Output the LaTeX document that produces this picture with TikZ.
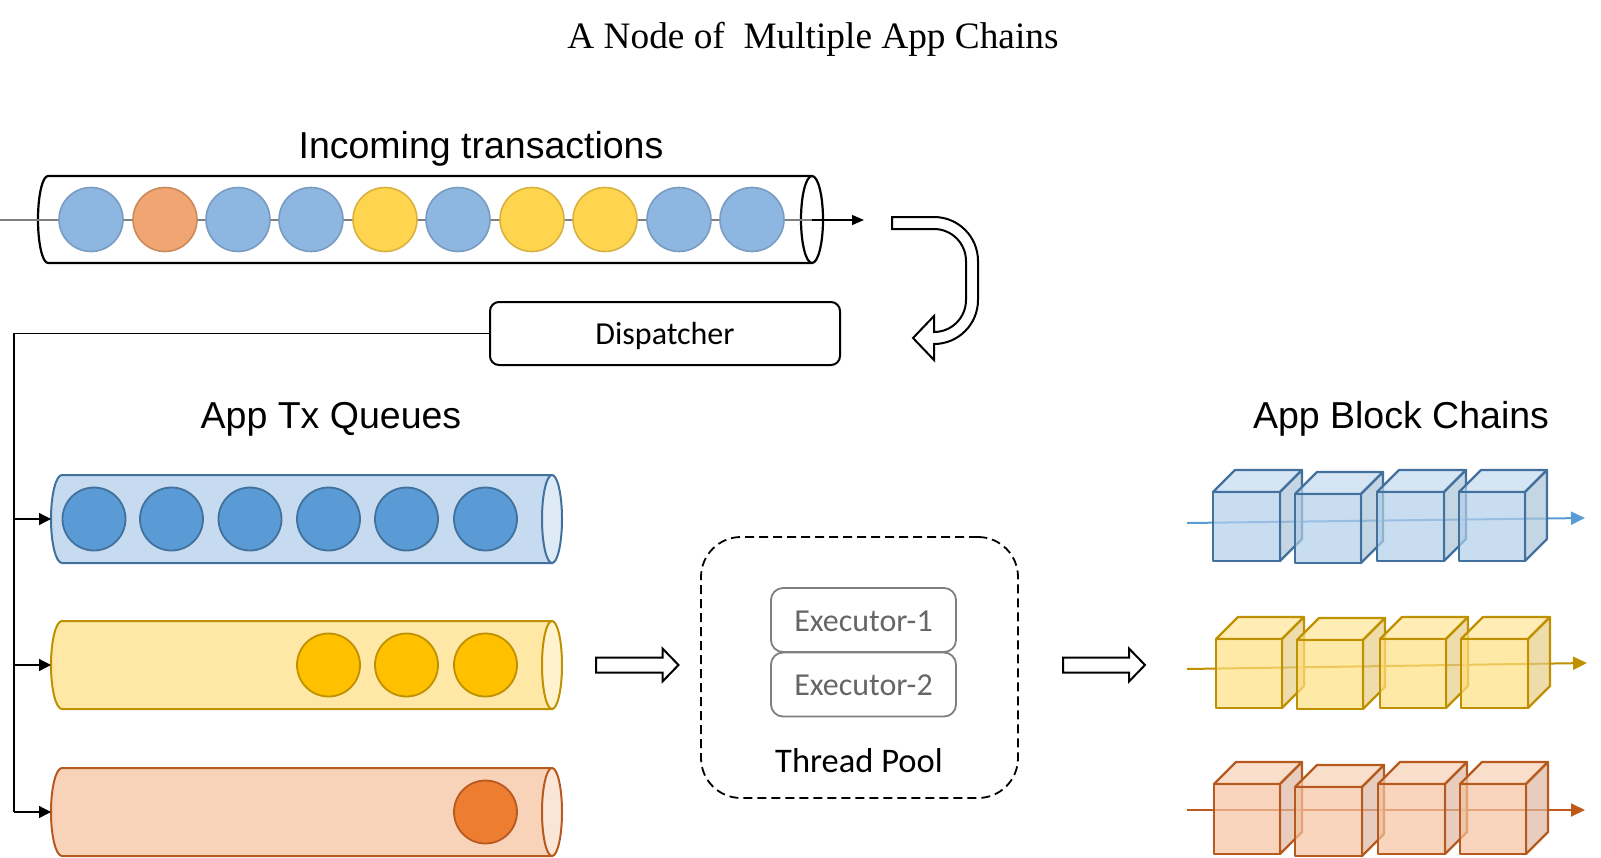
\documentclass[tikz,border=0pt]{standalone}
\usepackage{fontspec}
\setmainfont{Liberation Serif}
\newfontfamily\arialf{Liberation Sans}
\newfontfamily\calf{Carlito}
\usetikzlibrary{arrows.meta}
% top tube circles
\definecolor{tblue}{HTML}{8DB6E0}\definecolor{tbluel}{HTML}{7A9CC2}
\definecolor{torng}{HTML}{F0A572}\definecolor{torngl}{HTML}{C88B5E}
\definecolor{tyell}{HTML}{FFD44F}\definecolor{tyelll}{HTML}{D9B13F}
% app colours
\definecolor{bstroke}{HTML}{41719C}\definecolor{btube}{HTML}{C6DBEF}\definecolor{bend}{HTML}{DEEBF7}
\definecolor{bball}{HTML}{5B9BD5}\definecolor{barrow}{HTML}{5B9BD5}
\definecolor{bfront}{RGB}{178,206,234}\definecolor{btop}{RGB}{196,218,238}\definecolor{bside}{RGB}{171,195,216}
\definecolor{ystroke}{HTML}{BF9000}\definecolor{ytube}{HTML}{FFE8A6}\definecolor{yend}{HTML}{FFF2CC}
\definecolor{yball}{HTML}{FFC000}\definecolor{yarrow}{HTML}{BF9000}
\definecolor{yfront}{RGB}{255,224,128}\definecolor{ytop}{RGB}{255,229,149}\definecolor{yside}{RGB}{231,206,134}
\definecolor{ostroke}{HTML}{B65A1F}\definecolor{otube}{HTML}{F8D3B9}\definecolor{oend}{HTML}{FBE5D6}
\definecolor{oball}{HTML}{ED7D31}\definecolor{oarrow}{HTML}{C05A1A}
\definecolor{ofront}{RGB}{245,195,159}\definecolor{otop}{RGB}{248,208,182}\definecolor{oside}{RGB}{222,184,162}
\definecolor{execgray}{HTML}{7F7F7F}\definecolor{exectext}{HTML}{666666}

\newcommand{\appcube}[5]{%
  \draw[cubeline=#5, fill=#5top] (#1,#2) -- ++(22,-22) -- ++(#3,0) -- ++(-22,22) -- cycle;
  \draw[cubeline=#5, fill=#5side] ({#1+#3},#2) -- ++(22,-22) -- ++(0,#4) -- ++(-22,22) -- cycle;
  \draw[cubeline=#5, fill=#5front] (#1,#2) rectangle ++(#3,#4);
}
\newcommand{\apptube}[2]{%
  \draw[line width=2pt, draw=#2stroke, fill=#2tube] (552,{#1-44}) -- (62,{#1-44})
     arc[start angle=270, end angle=90, x radius=11, y radius=44] -- (552,{#1+44}) -- cycle;
  \draw[line width=2pt, draw=#2stroke, fill=#2end] (552,#1) ellipse [x radius=10, y radius=44];
}

\begin{document}
\begin{tikzpicture}[x=1pt,y=-1pt,
  txt/.style={inner sep=0pt, anchor=base},
  cubeline/.style={draw=#1stroke, line width=2.2pt, fill opacity=0.7, line join=round},
  tball/.style={line width=1.6pt},
  aball/.style={draw=#1stroke, fill=#1ball, line width=1.8pt},
  conn/.style={line width=1.3pt, -{Triangle[length=12pt,width=12pt]}},
  hollow/.style={draw=black, line width=2pt, fill=white, line join=miter},
  disp/.style={draw=black, line width=2pt, rounded corners=9pt, minimum width=350pt,
     minimum height=63pt, inner sep=0pt, text height=22pt, text depth=0pt,
     font=\calf\fontsize{32}{36}\selectfont},
  exec/.style={draw=execgray, line width=1.8pt, rounded corners=12pt, minimum width=185pt,
     minimum height=64pt, inner sep=0pt, text height=22pt, text depth=0pt, text=exectext,
     font=\calf\fontsize{32}{36}\selectfont},
  pool/.style={draw=black, line width=1.8pt, dash pattern=on 9pt off 5pt, rounded corners=40pt,
     minimum width=317pt, minimum height=261pt, inner sep=0pt},
  chainarrow/.style={line width=2pt, draw=#1arrow, -{Triangle[length=14pt,width=13pt]}}
]
\useasboundingbox (0,0) rectangle (1601,857);

% Title and headings
\node[txt] (title) at (813,48.5) {\fontsize{37.3}{44}\selectfont A Node of\ \ Multiple App Chains};
\node[txt] (inc) at (481,158) {\arialf\fontsize{37.5}{44}\selectfont Incoming transactions};
\node[txt] (atq) at (331,428) {\arialf\fontsize{37.5}{44}\selectfont App Tx Queues};
\node[txt] (abc) at (1401,428) {\arialf\fontsize{37.5}{44}\selectfont App Block Chains};

% Incoming transactions tube
\coordinate (inL) at (0,220);
\coordinate (inR) at (812,220);
\coordinate (inT) at (864,220);
\draw[line width=2.2pt] (812,176) -- (48,176)
   arc[start angle=270, end angle=90, x radius=10, y radius=43.5] -- (812,263);
\draw[line width=2.2pt, fill=white] (812,219.5) ellipse [x radius=11, y radius=43.5];
\draw[line width=1.3pt, draw=gray] (inL) -- (inR);
\draw[line width=1.3pt, -{Triangle[length=12pt,width=10pt]}] (inR) -- (inT);
\foreach \cx/\c in {91/tblue,165/torng,238/tblue,311/tblue,385/tyell,458/tblue,532/tyell,605/tyell,679/tblue,752/tblue}
  \draw[tball, draw=\c l, fill=\c] (\cx,219.5) circle[radius=32];

% U-turn hollow arrow
\draw[hollow] (892,217) -- (934,217) arc[start angle=270, end angle=360, radius=44]
  -- (978,300) arc[start angle=0, end angle=90, radius=44]
  -- (934,360) -- (913,338) -- (934,316) -- (934,332)
  arc[start angle=90, end angle=0, radius=32] -- (966,261)
  arc[start angle=0, end angle=-90, radius=32] -- (892,229) -- cycle;

% Dispatcher
\node[disp] (dsp) at (665,333.5) {Dispatcher};

% App tx queues
\apptube{519}{b}
\apptube{665}{y}
\apptube{812}{o}
\foreach \cx in {94,171.5,250,328.5,406.5,485.5}
  \draw[aball=b] (\cx,519) circle[radius=31.5];
\foreach \cx in {328.5,406.5,485.5}
  \draw[aball=y] (\cx,665) circle[radius=31.5];
\draw[aball=o] (485.5,812) circle[radius=31.5];

% Dispatcher connectors
\coordinate (busT) at (14,333.5);
\coordinate (j1) at (14,519);
\coordinate (j2) at (14,665);
\coordinate (j3) at (14,812);
\coordinate (q1) at (51,519);
\coordinate (q2) at (51,665);
\coordinate (q3) at (51,812);
\draw[line width=1.3pt] (dsp.west) -- (busT) -- (j3);
\draw[conn] (j1) -- (q1);
\draw[conn] (j2) -- (q2);
\draw[conn] (j3) -- (q3);

% Hollow arrows
\draw[hollow] (596,657.5) -- (662.5,657.5) -- (662.5,648.5) -- (678.5,665) -- (662.5,681.5) -- (662.5,672.5) -- (596,672.5) -- cycle;
\draw[hollow] (1063,657.5) -- (1129,657.5) -- (1129,648.5) -- (1145,665) -- (1129,681.5) -- (1129,672.5) -- (1063,672.5) -- cycle;

% Thread pool
\node[pool] (pool) at (859.5,667.5) {};
\node[exec] (e1) at (863.5,620) {Executor-1};
\node[exec] (e2) at (863.5,684.5) {Executor-2};
\node[txt] (tp) at (859,772) {\calf\fontsize{34.5}{40}\selectfont Thread Pool};

% Block chains
\coordinate (bcs) at (1187,523); \coordinate (bce) at (1585,518);
\coordinate (ycs) at (1187,669); \coordinate (yce) at (1587,663);
\coordinate (ocs) at (1187,810); \coordinate (oce) at (1585,810);
\draw[chainarrow=b] (bcs) -- (bce);
\draw[chainarrow=y] (ycs) -- (yce);
\draw[chainarrow=o] (ocs) -- (oce);

\appcube{1213}{492}{67}{69}{b}
\appcube{1295}{494}{66}{69}{b}
\appcube{1377}{492}{67}{69}{b}
\appcube{1459}{492}{66}{69}{b}

\appcube{1216}{639}{66}{69}{y}
\appcube{1297}{640}{66}{69}{y}
\appcube{1380}{639}{66}{69}{y}
\appcube{1461}{639}{67}{69}{y}

\appcube{1214}{784}{66}{70}{o}
\appcube{1295}{787}{67}{69}{o}
\appcube{1378}{784}{67}{70}{o}
\appcube{1460}{784}{66}{70}{o}
\end{tikzpicture}
\end{document}
